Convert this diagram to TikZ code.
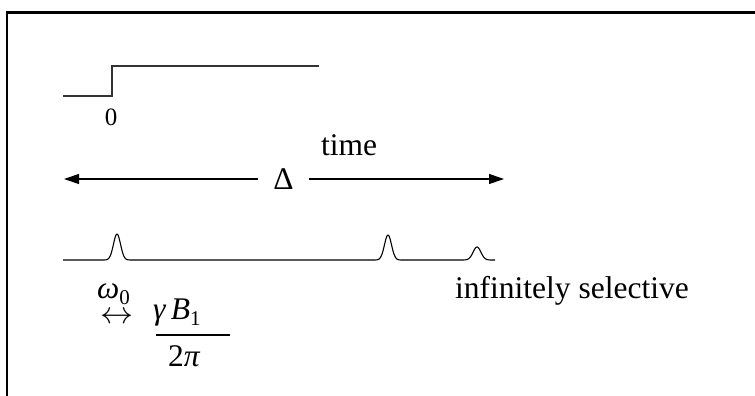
\documentclass[tikz,border=0pt]{standalone}
\usepackage{fontspec}
\setmainfont{Liberation Serif}
\usetikzlibrary{arrows.meta}
\tikzset{
  txt/.style={inner sep=0pt, font=\fontsize{31.5}{36}\selectfont},
  small/.style={inner sep=0pt, font=\fontsize{25}{30}\selectfont},
  sig/.style={line width=1.1pt, draw=black!80},
  dimarrow/.style={line width=1.1pt, -{Triangle[length=15pt,width=10pt]}},
}
\newcommand{\sbs}[1]{\raisebox{-0.2em}{\fontsize{21}{24}\selectfont #1}}
\begin{document}
\begin{tikzpicture}[x=1pt,y=-1pt]
\useasboundingbox (0,0) rectangle (755,396);
% frame (cut by the picture edge on right and bottom)
\draw[line width=2.4pt] (7,400) -- (7,12.5) -- (760,12.5);
% step function
\draw[sig] (63,96) -- (112,96) -- (112,66) -- (319,66);
\node[small, anchor=base] (zero) at (111,125) {0};
% time label and delta arrow
\node[txt, anchor=base] (time) at (349,155) {time};
\node[txt, minimum width=51pt, minimum height=20pt] (delta) at (283.5,179) {Δ};
\coordinate (L) at (64,179);
\coordinate (R) at (504,179);
\draw[dimarrow] (delta.west) -- (L);
\draw[dimarrow] (delta.east) -- (R);
% spectrum with peaks
\draw[line width=1.1pt, line join=round]
  (63,260) -- (100,260)
  -- plot[domain=100:134, samples=60] (\x, {260 - 26*exp(-((\x-117)/5)^2)})
  -- (371,260)
  -- plot[domain=371:405, samples=60] (\x, {260 - 25*exp(-((\x-388)/5)^2)})
  -- (460,260)
  -- plot[domain=460:495, samples=60] (\x, {260 - 13*exp(-((\x-477)/5.5)^2)});
% labels
\node[txt, anchor=base west] (sel) at (455,298) {infinitely selective};
\node[txt, anchor=base west] (omega) at (97,298) {\textit{ω}\sbs{0}};
\node[inner sep=0pt, anchor=center] (equiv) at (117,318) {\scalebox{3.3}[3.1]{$\leftrightarrow$}};
\node[txt, anchor=base west] (num) at (153,319) {\textit{γ\,B}\sbs{1}};
\node[txt, anchor=base west] (den) at (168,366) {2\textit{π}};
\coordinate (fl) at (156,335);
\coordinate (fr) at (230,335);
\draw[line width=1.1pt] (fl) -- (fr);
\end{tikzpicture}
\end{document}
